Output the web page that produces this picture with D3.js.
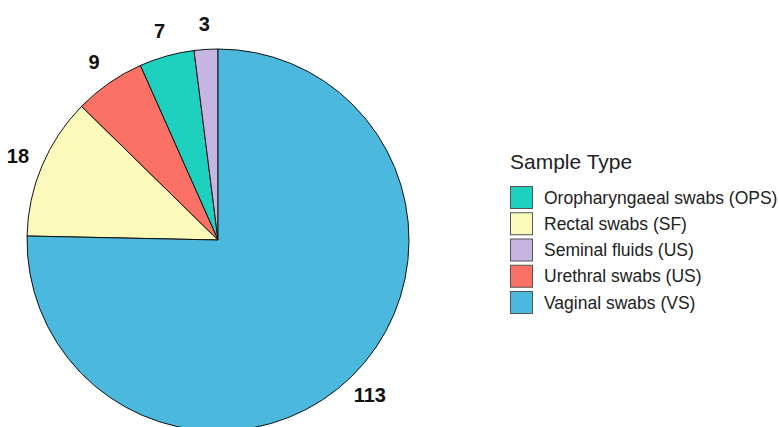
<!DOCTYPE html>
<html>
<head>
<meta charset="utf-8">
<script src="https://cdn.jsdelivr.net/npm/d3@7"></script>
<style>
  html, body { margin: 0; padding: 0; background: #ffffff; }
  svg { display: block; font-family: Arial, "Liberation Sans", Helvetica, sans-serif; }
</style>
</head>
<body>
<svg id="chart" width="779" height="427"></svg>
<script>
const categories = ["Oropharyngaeal swabs (OPS)", "Rectal swabs (SF)", "Seminal fluids (US)", "Urethral swabs (US)", "Vaginal swabs (VS)"];
const counts = [7, 18, 3, 9, 113];
const colors = ["#1DD1BE", "#FCFABB", "#C7B5E1", "#FB7166", "#4BB8DD"];
const legendTitle = "Sample Type";

const svg = d3.select("#chart");
const W = 779, H = 427;
const cx = 218, cy = 240, r = 191, labelR = 217;

const data = categories.map((c, i) => ({ category: c, count: counts[i] }));
const color = d3.scaleOrdinal().domain(categories).range(colors);

const pie = d3.pie().value(d => d.count).sort((a, b) => b.count - a.count);
const arcs = pie(data);
const arc = d3.arc().innerRadius(0).outerRadius(r);
const labelArc = d3.arc().innerRadius(labelR).outerRadius(labelR);

const g = svg.append("g").attr("transform", `translate(${cx},${cy})`);
g.selectAll("path.slice").data(arcs).join("path")
  .attr("class", "slice")
  .attr("d", arc)
  .attr("fill", d => color(d.data.category))
  .attr("stroke", "#111")
  .attr("stroke-width", 1);

g.selectAll("text.lbl").data(arcs).join("text")
  .attr("class", "lbl")
  .attr("transform", d => `translate(${labelArc.centroid(d)})`)
  .attr("text-anchor", "middle")
  .attr("dy", "0.36em")
  .attr("font-size", 20)
  .attr("font-weight", "bold")
  .attr("fill", "#111")
  .text(d => d.data.count);

// Legend
const lg = svg.append("g").attr("transform", "translate(510,0)");
lg.append("text")
  .attr("x", 0).attr("y", 169)
  .attr("font-size", 21)
  .attr("fill", "#222")
  .text(legendTitle);

const rowY = d3.scalePoint().domain(categories).range([186, 291]);
const rows = lg.selectAll("g.row").data(categories).join("g")
  .attr("class", "row")
  .attr("transform", d => `translate(0,${rowY(d)})`);
rows.append("rect")
  .attr("x", 0.5).attr("y", 0.5)
  .attr("width", 22).attr("height", 22)
  .attr("fill", d => color(d))
  .attr("stroke", "#555")
  .attr("stroke-width", 1);
rows.append("text")
  .attr("x", 34).attr("y", 11.5)
  .attr("dy", "0.35em")
  .attr("font-size", 17.5)
  .attr("fill", "#222")
  .text(d => d);
</script>
</body>
</html>
